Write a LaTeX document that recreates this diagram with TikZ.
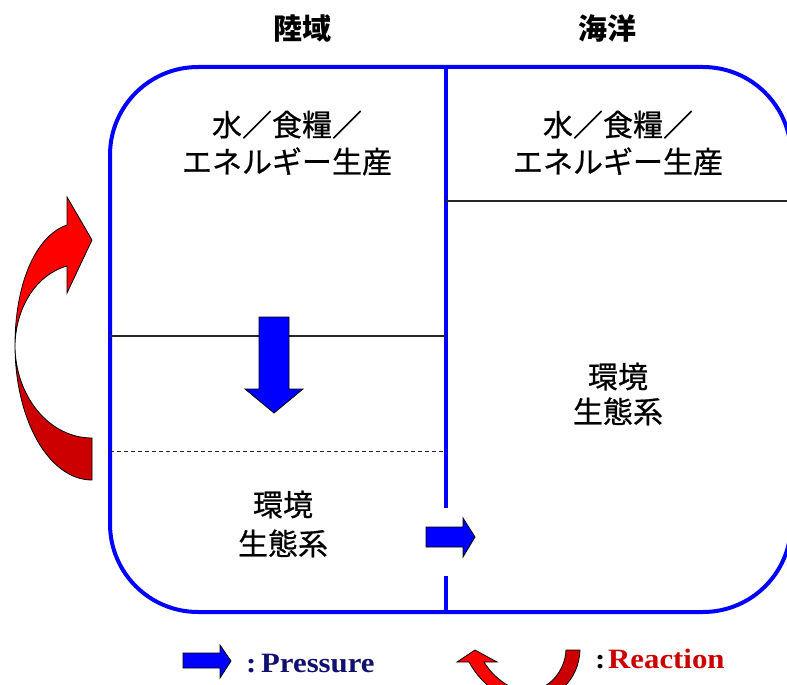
\documentclass[tikz,border=0pt]{standalone}
\usepackage{fontspec}
\setmainfont{Liberation Serif}
\newfontfamily\jp[FakeBold=0.6]{Noto Sans CJK JP}
\newfontfamily\jpt{Noto Sans CJK JP}
\newfontfamily\legendfont[FakeStretch=1.1]{Liberation Serif}
\definecolor{boxblue}{RGB}{0,0,255}
\definecolor{navytext}{RGB}{16,16,110}
\definecolor{reactred}{RGB}{204,0,0}
\definecolor{brightred}{RGB}{255,0,0}
\definecolor{darkred}{RGB}{204,0,0}
\begin{document}
\begin{tikzpicture}[x=1pt,y=-1pt,
  boxline/.style={draw=boxblue,line width=4pt},
  thinline/.style={draw=black!85,line width=1.2pt},
  dashline/.style={draw=black!85,line width=1pt,dash pattern=on 4pt off 3pt},
  jtext/.style={font=\jp\fontsize{30}{37}\selectfont,align=center,inner sep=0pt},
  jtitle/.style={font=\jpt\bfseries\fontsize{29}{35}\selectfont,inner sep=0pt},
  pressurearrow/.style={fill=boxblue,draw=black,line width=0.8pt,line join=miter},
  redup/.style={fill=brightred,draw=black,line width=0.8pt},
  reddown/.style={fill=darkred,draw=black,line width=0.8pt},
  legendtext/.style={font=\legendfont\bfseries\fontsize{28}{32}\selectfont,inner sep=0pt,anchor=base west}]
\useasboundingbox (0,0) rectangle (787,685);
\begin{scope}
\clip (0,0) rectangle (787,685);
% main box
\draw[boxline,rounded corners=88pt] (110,67) rectangle (791,612);
\coordinate (divtop) at (446,67);
\coordinate (divgap1) at (446,508);
\coordinate (divgap2) at (446,576);
\coordinate (divbot) at (446,612);
\draw[boxline] (divtop) -- (divgap1);
\draw[boxline] (divgap2) -- (divbot);
% section lines
\coordinate (rl1) at (446,201);
\coordinate (rl2) at (791,201);
\coordinate (ll1) at (110,336);
\coordinate (ll2) at (446,336);
\coordinate (dl1) at (110,451);
\coordinate (dl2) at (446,451);
\draw[thinline] (rl1) -- (rl2);
\draw[thinline] (ll1) -- (ll2);
\draw[dashline] (dl1) -- (dl2);
% titles
\node[jtitle] (land) at (302,28) {陸域};
\node[jtitle] (sea) at (607,28) {海洋};
% texts
\node[jtext] (landprod) at (287,143) {水／食糧／\\エネルギー生産};
\node[jtext] (seaprod) at (618,143) {水／食糧／\\エネルギー生産};
\node[jtext,font=\jp\fontsize{30}{35}\selectfont] (seaeco) at (618,394) {環境\\生態系};
\node[jtext,font=\jp\fontsize{30}{39}\selectfont] (landeco) at (283,524) {環境\\生態系};
% pressure arrows
\draw[pressurearrow] (259,317) -- (289,317) -- (289,389) -- (303,389) -- (274,413) -- (245,389) -- (259,389) -- cycle;
\draw[pressurearrow] (426,527) -- (463,527) -- (463,518) -- (475,537) -- (463,557) -- (463,547) -- (426,547) -- cycle;
% big reaction arrow (left)
\draw[reddown] (92,480) .. controls (49,480) and (15,420) .. (15,345)
  .. controls (15,396) and (49,438) .. (92,438) -- cycle;
\draw[redup] (15,345) .. controls (15,285) and (35,236) .. (67,225)
  -- (67,197) -- (92,240) -- (67,293) -- (67,266)
  .. controls (38,274) and (16,305) .. (15,345) -- cycle;
% legend
\draw[pressurearrow] (183,653) -- (220,653) -- (220,645) -- (231,661) -- (220,678) -- (220,668) -- (183,668) -- cycle;
\node[legendtext,text=navytext] (ptext) at (246,672) {:\,Pressure};
\draw[reddown] (528,703) .. controls (556,701) and (579,680) .. (580,650)
  -- (566,650) .. controls (565,672) and (548,690) .. (528,692) -- cycle;
\draw[redup] (528,703) .. controls (505,701) and (482,686) .. (469,662)
  -- (457,662) -- (475,650) -- (497,662) -- (484,662)
  .. controls (494,678) and (510,690) .. (528,692) -- cycle;
\node[legendtext] (rcolon) at (595,668) {:};
\node[legendtext,text=reactred] (rtext) at (608,668) {Reaction};
\end{scope}
\end{tikzpicture}
\end{document}
